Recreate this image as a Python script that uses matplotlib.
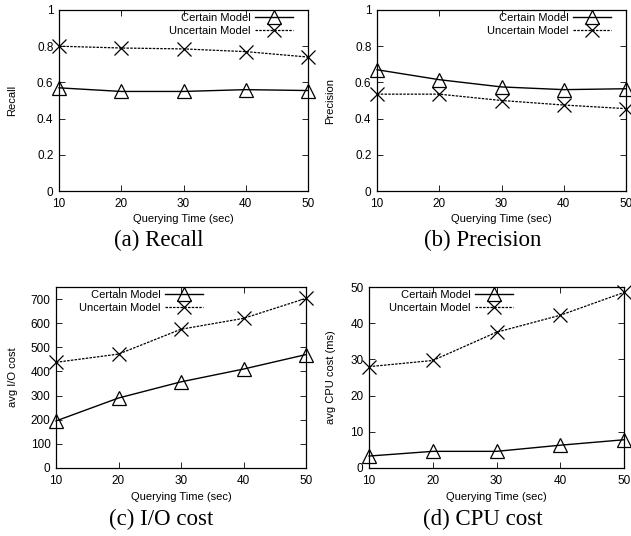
import matplotlib
matplotlib.use('Agg')
import matplotlib.pyplot as plt

# query times on x axis
qtime = [10, 20, 30, 40, 50]

# (a) recall
recall_certain = [0.57, 0.55, 0.55, 0.56, 0.555]
recall_uncertain = [0.80, 0.79, 0.785, 0.77, 0.74]

# (b) precision
prec_certain = [0.67, 0.615, 0.575, 0.56, 0.565]
prec_uncertain = [0.535, 0.535, 0.50, 0.475, 0.455]

# (c) I/O cost
io_certain = [195, 290, 357, 410, 470]
io_uncertain = [438, 472, 575, 620, 703]

# (d) CPU cost
cpu_certain = [3.3, 4.6, 4.6, 6.3, 7.8]
cpu_uncertain = [28, 29.7, 37.5, 42.2, 48.5]

W, H = 631, 536
plt.rcParams['font.family'] = ['Liberation Sans', 'DejaVu Sans']

fig = plt.figure(figsize=(W / 100, H / 100), dpi=100)


def make_ax(l, r, t, b):
    return fig.add_axes([l / W, 1 - b / H, (r - l) / W, (b - t) / H])


def draw(ax, box, cert, unc, ylim, yticks, ylabel, ylabfmt, leg_x, ylab_x):
    l, r, t, b = box
    ax.plot(qtime, cert, color='black', lw=1.0, marker='^', ms=9.5,
            mfc='none', mec='black', mew=0.9, label='Certain Model',
            clip_on=False)
    ax.plot(qtime, unc, color='black', lw=0.9, ls=(0, (2, 1)), marker='x',
            ms=10, mew=0.9, label='Uncertain Model', clip_on=False)
    ax.set_xlim(10, 50)
    ax.set_ylim(*ylim)
    ax.set_xticks(qtime)
    ax.set_yticks(yticks)
    ax.set_yticklabels([ylabfmt(v) for v in yticks])
    ax.tick_params(direction='in', top=True, right=True, length=4,
                   width=0.6, labelsize=8.5)
    ax.tick_params(axis='x', pad=5)
    ax.tick_params(axis='y', pad=4)
    for s in ax.spines.values():
        s.set_linewidth(0.9)
    ax.set_xlabel('Querying Time (sec)', fontsize=8)
    ax.set_ylabel(ylabel, fontsize=8)
    ax.xaxis.set_label_coords(0.5, -23.5 / (b - t))
    ax.yaxis.set_label_coords((ylab_x + 5.5 - l) / (r - l), 0.5)
    ax.legend(loc='upper right', frameon=False, markerfirst=False,
              fontsize=8, handlelength=3.4, handletextpad=0.4,
              labelspacing=0.22, borderpad=0.1, borderaxespad=0.2,
              bbox_to_anchor=((leg_x - l) / (r - l), 1.0))


def fmt_frac(v):
    return '0' if v == 0 else ('1' if v == 1 else '%g' % v)


box1 = (59, 308, 10, 191)
draw(make_ax(*box1), box1, recall_certain, recall_uncertain, (0, 1),
     [0, 0.2, 0.4, 0.6, 0.8, 1], 'Recall', fmt_frac, 296, 12)

box2 = (377, 626, 10, 191)
draw(make_ax(*box2), box2, prec_certain, prec_uncertain, (0, 1),
     [0, 0.2, 0.4, 0.6, 0.8, 1], 'Precision', fmt_frac, 614, 330)

box3 = (56, 306, 287, 468)
draw(make_ax(*box3), box3, io_certain, io_uncertain, (0, 750),
     [0, 100, 200, 300, 400, 500, 600, 700], 'avg I/O cost',
     lambda v: '%d' % v, 206, 12)

box4 = (369, 624, 287, 468)
draw(make_ax(*box4), box4, cpu_certain, cpu_uncertain, (0, 50),
     [0, 10, 20, 30, 40, 50], 'avg CPU cost (ms)',
     lambda v: '%d' % v, 516, 330)

caps = [('(a) Recall', 159, 240), ('(b) Precision', 483, 240),
        ('(c) I/O cost', 161, 519), ('(d) CPU cost', 483, 519)]
for txt, x, y in caps:
    fig.text(x / W, 1 - y / H, txt, ha='center', va='center',
             fontsize=16.5, family=['Liberation Serif', 'DejaVu Serif'])

fig.savefig('out.png', dpi=100)
